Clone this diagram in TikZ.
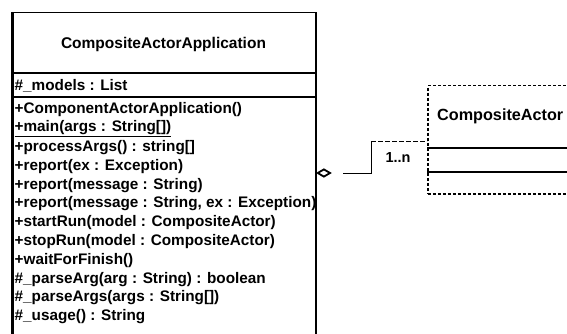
\documentclass[tikz,border=0pt]{standalone}
\usepackage{fontspec}
\setmainfont{Liberation Sans}
\usetikzlibrary{shapes.geometric}
\begin{document}
\begin{tikzpicture}[x=1pt,y=-1pt,
  boxline/.style={line width=1.5pt},
  member/.style={anchor=west,inner sep=0pt,font=\bfseries\fontsize{15.3}{17}\selectfont},
  ttl/.style={font=\bfseries\fontsize{15.5}{17}\selectfont,inner sep=0pt}]
\useasboundingbox (0,0) rectangle (567,334);
\clip (0,0) rectangle (567,334);
% left class
\node[draw,boxline,minimum width=303pt,minimum height=340pt,anchor=north west,inner sep=0pt] (app) at (12,12) {};
\draw[line width=2.2pt] (app.north west) -- (app.south west);
\draw[boxline] ([yshift=-61pt]app.north west) -- ([yshift=-61pt]app.north east);
\draw[boxline] ([yshift=-85pt]app.north west) -- ([yshift=-85pt]app.north east);
\node[ttl] (title) at (163.5,44) {CompositeActorApplication};
\node[member] (attr) at (14.5,86) {\#\_models : List};
\foreach \t [count=\i] in {
  {+ComponentActorApplication()},
  {\underline{+main(args : String[])}},
  {+processArgs() : string[]},
  {+report(ex : Exception)},
  {+report(message : String)},
  {+report(message : String, ex : Exception)},
  {+startRun(model : CompositeActor)},
  {+stopRun(model : CompositeActor)},
  {+waitForFinish()},
  {\#\_parseArg(arg : String) : boolean},
  {\#\_parseArgs(args : String[])},
  {\#\_usage() : String}}
  \node[member] (m\i) at (14.5,{110+18.8*(\i-1)}) {\t};
% right class
\node[draw,densely dashed,line width=1.5pt,minimum width=170pt,minimum height=108pt,anchor=north west,inner sep=0pt] (ca) at (427,85) {};
\draw[boxline] ([yshift=-63pt]ca.north west) -- ([yshift=-63pt]ca.north east);
\draw[boxline] ([yshift=-87pt]ca.north west) -- ([yshift=-87pt]ca.north east);
\node[ttl,anchor=west,font=\bfseries\fontsize{16.2}{18}\selectfont] (catitle) at (437,116) {CompositeActor};
% aggregation
\node[diamond,draw,fill=white,line width=1.8pt,minimum width=13pt,minimum height=8pt,inner sep=0pt,anchor=west] (dia) at (app.east |- 0,173) {};
\coordinate (bend) at (371,173);
\draw[line width=0.9pt] ([xshift=12pt]dia.east) -- (bend) -- (bend |- 0,141);
\draw[line width=0.8pt,dash pattern=on 5pt off 2pt] (bend |- 0,141) -- (ca.west |- 0,141);
\node[font=\bfseries\fontsize{14.5}{16}\selectfont,inner sep=0pt] (mult) at (398,158) {1..n};
\end{tikzpicture}
\end{document}
